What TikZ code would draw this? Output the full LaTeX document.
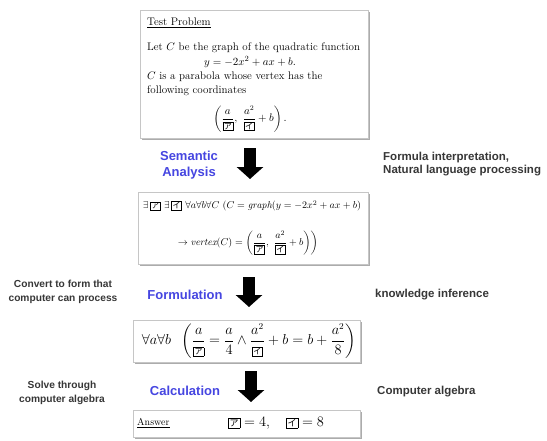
\documentclass[tikz,border=0pt]{standalone}
\usepackage{amsmath}
\usepackage{fontspec}
\usetikzlibrary{arrows.meta,shadows}
\newfontfamily\lab{Liberation Sans}
\newfontfamily\cjk{Noto Sans CJK JP}
\newcommand\kb[1]{\mbox{\setlength{\fboxsep}{0.8pt}\setlength{\fboxrule}{0.5pt}\fbox{\cjk\footnotesize #1}}}
\newcommand\kbl[1]{\mbox{\setlength{\fboxsep}{1pt}\setlength{\fboxrule}{0.5pt}\fbox{\cjk\small #1}}}
\definecolor{lblue}{RGB}{70,70,225}
\definecolor{side}{RGB}{55,55,55}
\begin{document}
\begin{tikzpicture}[x=1pt,y=-1pt,
  box/.style={draw=gray!45, fill=white, line width=0.6pt,
    drop shadow={shadow xshift=2pt, shadow yshift=-2pt, fill=gray!65, opacity=1},
    inner sep=0pt},
  stage/.style={font=\lab\bfseries\fontsize{13}{15.5}\selectfont, text=lblue, align=center, inner sep=0pt},
  note/.style={font=\lab\bfseries\fontsize{11.5}{12.5}\selectfont, text=side, align=left, anchor=west, inner sep=0pt},
  lnote/.style={font=\lab\bfseries\fontsize{10.2}{13.5}\selectfont, text=side, align=center, inner sep=0pt},
  flow/.style={-{Triangle[length=12pt,width=26pt]}, line width=12pt, black},
  body/.style={font=\fontsize{11}{15}\selectfont, inner sep=0pt, anchor=west},
  bodyc/.style={font=\fontsize{11}{15}\selectfont, inner sep=0pt}
]
\useasboundingbox (0,0) rectangle (547,440);
\fill[white] (0,0) rectangle (547,440);

% boxes
\node[box, minimum width=228pt, minimum height=128pt] (prob) at (254,74) {};
\node[box, minimum width=230pt, minimum height=72pt] (sem) at (253,228) {};
\node[box, minimum width=227pt, minimum height=42pt] (form) at (246.5,341) {};
\node[box, minimum width=227pt, minimum height=27pt] (answ) at (246.5,423.5) {};

% problem text
\node[body] (t1) at (147,23) {\underline{Test Problem}};
\node[body] (t2) at (147,48) {Let $C$ be the graph of the quadratic function};
\node[bodyc] (t3) at (250,62) {$y=-2x^2+ax+b.$};
\node[body] (t4) at (147,77) {$C$ is a parabola whose vertex has the};
\node[body] (t5) at (147,91) {following coordinates};
\node[bodyc, font=\fontsize{10.5}{13}\selectfont] (t6) at (250,119) {$\displaystyle\left(\frac{a}{\kb{ア}},\ \frac{a^2}{\kb{イ}}+b\right).$};

% semantic representation
\node[bodyc, font=\fontsize{10}{12}\selectfont] (r1) at (252,206)
  {$\exists\,\kb{ア}\ \exists\,\kb{イ}\ \forall a\forall b\forall C\ (C=\mathit{graph}(y=-2x^2+ax+b)$};
\node[bodyc, font=\fontsize{10}{12}\selectfont] (r2) at (248,243)
  {$\displaystyle\rightarrow \mathit{vertex}(C)=\left(\frac{a}{\kb{ア}},\ \frac{a^2}{\kb{イ}}+b\right)\biggr)$};

% formulation
\node[bodyc, font=\fontsize{13.5}{15}\selectfont] (f1) at (249,341)
  {$\displaystyle\forall a\forall b\;\;\left(\frac{a}{\kb{ア}}=\frac{a}{4}\wedge\frac{a^2}{\kb{イ}}+b=b+\frac{a^2}{8}\right)$};

% answer
\node[body, font=\fontsize{10}{12}\selectfont] (ans) at (137,423) {\underline{Answer}};
\node[body, font=\fontsize{13.5}{15}\selectfont] (res) at (228,423) {$\kbl{ア}=4,\quad \kbl{イ}=8$};

% stage labels
\node[stage] (lsem) at (189,165) {Semantic\\Analysis};
\node[stage] (lform) at (185,295) {Formulation};
\node[stage] (lcalc) at (185,391) {Calculation};

% block arrows
\coordinate (a1s) at (250,148); \coordinate (a1e) at (250,179);
\coordinate (a2s) at (249,277); \coordinate (a2e) at (249,307);
\coordinate (a3s) at (251,371); \coordinate (a3e) at (251,402);
\draw[flow] (a1s) -- (a1e);
\draw[flow] (a2s) -- (a2e);
\draw[flow] (a3s) -- (a3e);

% side notes
\node[note] (n1) at (383,164) {Formula interpretation,\\Natural language processing};
\node[note] (n2) at (375,295) {knowledge inference};
\node[note] (n3) at (377,392) {Computer algebra};
\node[lnote] (l1) at (63,292) {Convert to form that\\computer can process};
\node[lnote] (l2) at (62,393) {Solve through\\computer algebra};
\end{tikzpicture}
\end{document}
